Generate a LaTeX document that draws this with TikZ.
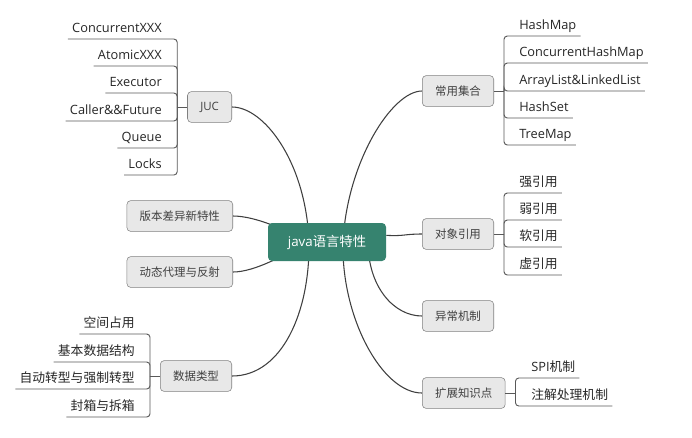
\documentclass[tikz,border=0pt]{standalone}
\usepackage{fontspec}
\setmainfont{Noto Sans CJK SC}
\newfontfamily\lat{Open Sans}
\usetikzlibrary{backgrounds}
\definecolor{rootgreen}{HTML}{36836F}
\definecolor{topicgray}{HTML}{E8E8E8}
\definecolor{linegray}{HTML}{3F3F3F}

\tikzset{
  root/.style={fill=rootgreen, rounded corners=3pt, text=white, minimum width=88.5pt, minimum height=28.5pt, font=\fontsize{10pt}{12pt}\selectfont},
  topic/.style={draw=black!50, fill=topicgray, rounded corners=3pt, inner xsep=9.6pt, minimum height=23.2pt, text=black!75, font=\fontsize{8.6pt}{10pt}\selectfont},
  leaf/.style={inner xsep=3pt, inner ysep=2.4pt, text height=7.2pt, text depth=2.6pt, text=black!85, font=\fontsize{9.6pt}{11pt}\selectfont},
  link/.style={draw=linegray, line width=0.8pt},
  branch/.style={draw=black!65, line width=0.7pt, rounded corners=2.5pt}
}

\begin{document}
\begin{tikzpicture}[x=0.75pt,y=-0.75pt]
\useasboundingbox (0,0) rectangle (692,437);

% centre
\node[root] (java) at (327,242) {{\lat java}语言特性};

% main topics
\node[topic, anchor=east] (juc) at (232,107) {\lat JUC};
\node[topic, anchor=east] (ver) at (233,216) {版本差异新特性};
\node[topic, anchor=east] (proxy) at (233,272) {动态代理与反射};
\node[topic, anchor=east] (dtype) at (232,376) {数据类型};
\node[topic, anchor=west] (coll) at (422,91) {常用集合};
\node[topic, anchor=west] (ref) at (422,234) {对象引用};
\node[topic, anchor=west] (exc) at (422,316) {异常机制};
\node[topic, anchor=west] (ext) at (422,393) {扩展知识点};

% JUC
\node[leaf, anchor=south east] (juc1) at (166,39) {\lat ConcurrentXXX};
\node[leaf, anchor=south east] (juc2) at (166,66) {\lat AtomicXXX};
\node[leaf, anchor=south east] (juc3) at (166,93) {\lat Executor};
\node[leaf, anchor=south east] (juc4) at (166,121) {\lat Caller\&\&Future};
\node[leaf, anchor=south east] (juc5) at (166,148) {\lat Queue};
\node[leaf, anchor=south east] (juc6) at (166,175) {\lat Locks};

% data types
\node[leaf, anchor=south east] (dt1) at (139,334) {空间占用};
\node[leaf, anchor=south east] (dt2) at (139,362) {基本数据结构};
\node[leaf, anchor=south east] (dt3) at (139,389) {自动转型与强制转型};
\node[leaf, anchor=south east] (dt4) at (139,417) {封箱与拆箱};

% collections
\node[leaf, anchor=south west] (col1) at (515,36) {\lat HashMap};
\node[leaf, anchor=south west] (col2) at (515,63) {\lat ConcurrentHashMap};
\node[leaf, anchor=south west] (col3) at (515,91) {\lat ArrayList\&LinkedList};
\node[leaf, anchor=south west] (col4) at (515,118) {\lat HashSet};
\node[leaf, anchor=south west] (col5) at (515,145) {\lat TreeMap};

% references
\node[leaf, anchor=south west] (ref1) at (515,193) {强引用};
\node[leaf, anchor=south west] (ref2) at (515,220) {弱引用};
\node[leaf, anchor=south west] (ref3) at (515,247) {软引用};
\node[leaf, anchor=south west] (ref4) at (515,275) {虚引用};

% extensions
\node[leaf, anchor=south west] (ext1) at (527,378) {{\lat SPI}机制};
\node[leaf, anchor=south west] (ext2) at (527,406) {注解处理机制};

\begin{scope}[on background layer]
% curves to the centre
\draw[link] (juc.east) .. controls +(32,0) and +(-3,-80) .. ([xshift=-13.5pt]java.center);
\draw[link] (ver.east) .. controls +(22,0) and +(-20,-12) .. ([xshift=-15pt]java.center);
\draw[link] (proxy.east) .. controls +(22,0) and +(-20,12) .. ([xshift=-15pt]java.center);
\draw[link] (dtype.east) .. controls +(50,0) and +(1,70) .. ([xshift=-13.5pt]java.center);
\draw[link] (coll.west) .. controls +(-30,0) and +(4,-80) .. ([xshift=12pt]java.center);
\draw[link] ([yshift=5pt]java.east) .. controls +(18,1) and +(-18,0) .. (ref.west);
\draw[link] (exc.west) .. controls +(-28,0) and +(0,45) .. ([xshift=30.75pt]java.center);
\draw[link] (ext.west) .. controls +(-40,0) and +(-2,75) .. ([xshift=12pt]java.center);
\end{scope}

% brackets
\draw[branch] (juc.west) -- ++(-10,0) coordinate (jucb);
\draw[branch] (jucb) |- (juc1.south west);
\draw[branch] (jucb) |- (juc2.south west);
\draw[branch] (jucb) |- (juc3.south west);
\draw[branch] (jucb) |- (juc4.south west);
\draw[branch] (jucb) |- (juc5.south west);
\draw[branch] (jucb) |- (juc6.south west);

\draw[branch] (dtype.west) -- ++(-10,0) coordinate (dtb);
\draw[branch] (dtb) |- (dt1.south west);
\draw[branch] (dtb) |- (dt2.south west);
\draw[branch] (dtb) |- (dt3.south west);
\draw[branch] (dtb) |- (dt4.south west);

\draw[branch] (coll.east) -- ++(10,0) coordinate (colb);
\draw[branch] (colb) |- (col1.south east);
\draw[branch] (colb) |- (col2.south east);
\draw[branch] (colb) |- (col3.south east);
\draw[branch] (colb) |- (col4.south east);
\draw[branch] (colb) |- (col5.south east);

\draw[branch] (ref.east) -- ++(10,0) coordinate (refb);
\draw[branch] (refb) |- (ref1.south east);
\draw[branch] (refb) |- (ref2.south east);
\draw[branch] (refb) |- (ref3.south east);
\draw[branch] (refb) |- (ref4.south east);

\draw[branch] (ext.east) -- ++(10,0) coordinate (extb);
\draw[branch] (extb) |- (ext1.south east);
\draw[branch] (extb) |- (ext2.south east);
\end{tikzpicture}
\end{document}
